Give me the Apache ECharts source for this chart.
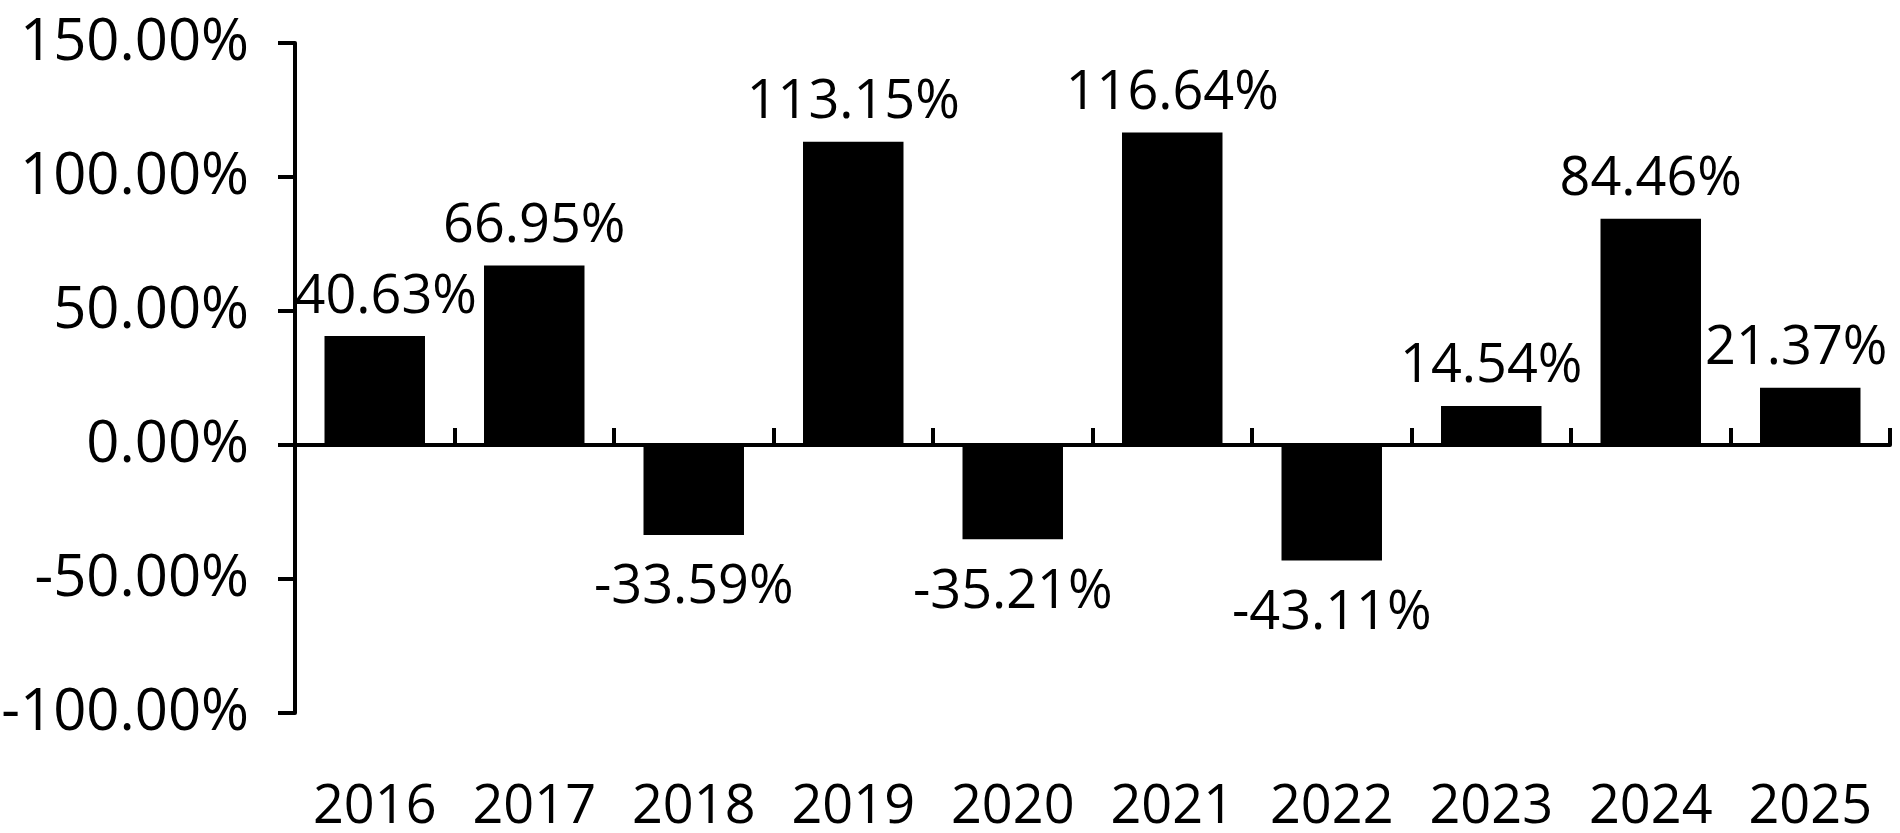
<!DOCTYPE html>
<html>
<head>
<meta charset="utf-8">
<script src="https://cdn.jsdelivr.net/npm/echarts@6/dist/echarts.min.js"></script>
<style>
html,body{margin:0;padding:0;background:#fff;}
#chart{width:1900px;height:833px;}
</style>
</head>
<body>
<div id="chart"></div>
<script>
const categories = ['2016','2017','2018','2019','2020','2021','2022','2023','2024','2025'];
const returns = [40.63, 66.95, -33.59, 113.15, -35.21, 116.64, -43.11, 14.54, 84.46, 21.37];
const yTicks = [-100, -50, 0, 50, 100, 150];
const labelShift = [11, 0, 0, 0, 0, 0, 0, 0, 0, -14];

const FONT = '"Open Sans", "Noto Sans", sans-serif';
const chart = echarts.init(document.getElementById('chart'), null, {renderer: 'canvas'});

const seriesData = returns.map((v, i) => ({
  value: v,
  label: {
    position: v >= 0 ? 'top' : 'bottom',
    distance: v >= 0 ? 12 : 26,
    offset: [labelShift[i], 0]
  }
}));

chart.setOption({
  animation: false,
  backgroundColor: '#ffffff',
  grid: {left: 295, right: 10, top: 43, bottom: 120, containLabel: false, outerBoundsMode: 'none'},
  xAxis: [
    {
      type: 'category',
      data: categories,
      position: 'bottom',
      axisLine: {show: true, onZero: true, lineStyle: {color: '#000', width: 4}},
      axisTick: {show: true, inside: true, length: 17, lineStyle: {color: '#000', width: 4}},
      axisLabel: {show: false},
      splitLine: {show: false}
    },
    {
      type: 'category',
      data: categories,
      position: 'bottom',
      axisLine: {show: false, onZero: false},
      axisTick: {show: false},
      axisLabel: {show: true, interval: 0, margin: 68, color: '#000', fontSize: 54, fontFamily: FONT},
      splitLine: {show: false}
    }
  ],
  yAxis: {
    type: 'value',
    min: yTicks[0],
    max: yTicks[yTicks.length - 1],
    interval: 50,
    axisLine: {show: true, lineStyle: {color: '#000', width: 4}},
    axisTick: {show: true, inside: false, length: 17, lineStyle: {color: '#000', width: 4}},
    axisLabel: {
      margin: 46, color: '#000', fontSize: 58, fontFamily: FONT,
      padding: [10, 0, 0, 0],
      formatter: v => v.toFixed(2) + '%'
    },
    splitLine: {show: false}
  },
  series: [{
    type: 'bar',
    xAxisIndex: 0,
    data: seriesData,
    barCategoryGap: '37%',
    itemStyle: {color: '#000'},
    label: {
      show: true,
      color: '#000',
      fontSize: 54,
      fontFamily: FONT,
      formatter: p => p.value.toFixed(2) + '%'
    }
  }]
});
</script>
</body>
</html>
